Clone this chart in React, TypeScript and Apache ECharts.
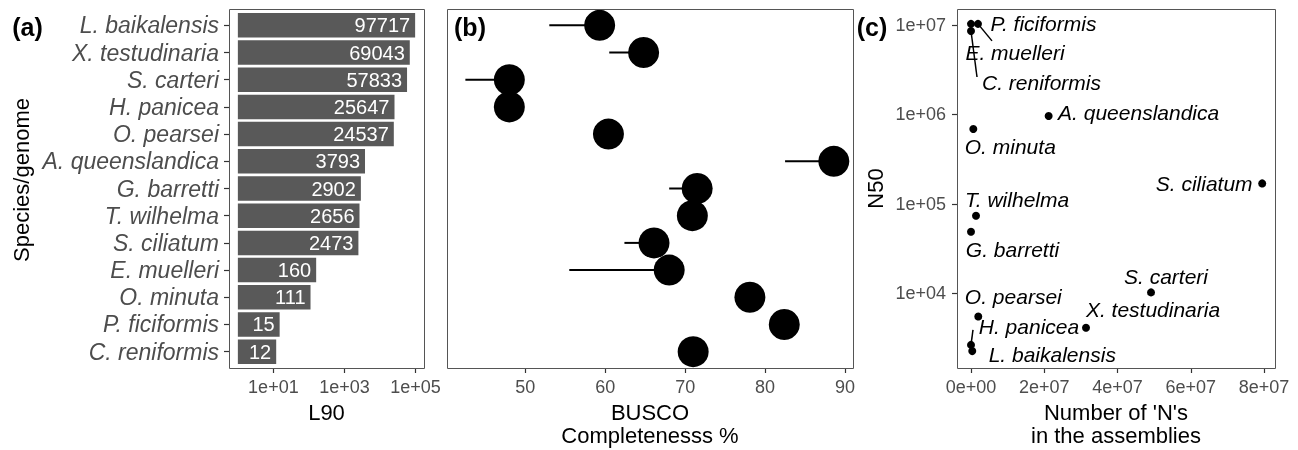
import React, { useEffect, useRef } from 'react';
import * as echarts from 'echarts';

// ---------- data ----------
const species = [
  'L. baikalensis', 'X. testudinaria', 'S. carteri', 'H. panicea', 'O. pearsei',
  'A. queenslandica', 'G. barretti', 'T. wilhelma', 'S. ciliatum', 'E. muelleri',
  'O. minuta', 'P. ficiformis', 'C. reniformis',
];
const l90 = [97717, 69043, 57833, 25647, 24537, 3793, 2902, 2656, 2473, 160, 111, 15, 12];
const buscoComplete = [59.3, 64.8, 48.0, 48.0, 60.4, 88.6, 71.5, 70.9, 66.1, 68.0, 78.1, 82.4, 71.0];
const buscoLower: (number | null)[] = [53.0, 60.5, 42.5, null, null, 82.5, 68.0, null, 62.4, 55.5, null, null, null];
const nCount = [3.5e5, 3.14e7, 4.915e7, 0, 1.99e6, 2.12e7, 0, 1.37e6, 7.95e7, 1.91e6, 6.3e5, 0, 0];
const n50 = [2250, 4110, 10200, 2640, 5480, 9.6e5, 4.87e4, 7.36e4, 1.69e5, 1.03e7, 6.87e5, 1.03e7, 8.57e6];

const l90Ticks = [10, 1000, 100000];
const buscoTicks = [50, 60, 70, 80, 90];
const nTicks = [0, 2e7, 4e7, 6e7, 8e7];
const n50Ticks = [1e4, 1e5, 1e6, 1e7];

// ---------- layout (not data) ----------
const labelOffsets: [number, number][] = [
  [80, 3], [67, -18], [15, -16], [58, -18], [35, -20.5], [90, -3], [41.5, 17.5],
  [41, -16.5], [-58, 0], [37, 29], [37, 17.5], [72.5, 0], [70.5, 51.5],
];
const segmentEnds: ([number, number] | null)[] = [
  null, null, null, [2, -15], null, null, null, null, null, [14, 17], null, null, [6, 46],
];

const FONT = '"Liberation Sans", Arial, Helvetica, sans-serif';
const TICK_COLOR = '#4D4D4D';
const TOP = 9;
const H = 359;
const BAND = H / 13.2;
const INSET = 0.1 * BAND;

function sci(v: number): string {
  if (v === 0) return '0e+00';
  const e = Math.floor(Math.log10(v) + 1e-9);
  const m = Math.round(v / Math.pow(10, e));
  return `${m}e+${String(e).padStart(2, '0')}`;
}

const hiddenLine = { show: false, onZero: false };
const tickStyle = { show: true, inside: false, length: 5, lineStyle: { color: '#333', width: 1.2 } };
const labelStyle = { color: TICK_COLOR, fontSize: 18, fontFamily: FONT };
const nameStyle = { color: '#000', fontSize: 22, fontFamily: FONT, lineHeight: 23 };

export default function App() {
  const ref = useRef<HTMLDivElement>(null);
  useEffect(() => {
    if (!ref.current) return;
    const chart = echarts.init(ref.current, undefined, { renderer: 'svg' });
    const grids = [
      { left: 229, top: TOP + INSET, width: 195, height: 13 * BAND },
      { left: 447, top: TOP + INSET, width: 406, height: 13 * BAND },
      { left: 957, top: TOP, width: 318, height: H },
    ];
    const option: any = {
      animation: false,
      grid: grids.map((g) => ({ ...g, containLabel: false, outerBoundsMode: 'none' })),
      xAxis: [
        {
          type: 'log', logBase: 10, gridIndex: 0,
          min: Math.pow(10, -0.2495), max: Math.pow(10, 5.2395), offset: INSET,
          axisLine: hiddenLine, splitLine: { show: false },
          axisTick: { ...tickStyle, customValues: l90Ticks },
          axisLabel: { ...labelStyle, margin: 10, customValues: l90Ticks, formatter: (v: number) => sci(v) },
          name: 'L90', nameLocation: 'middle', nameGap: 33, nameTextStyle: nameStyle,
        },
        {
          type: 'value', gridIndex: 1, min: 40.2, max: 91.0, offset: INSET,
          axisLine: hiddenLine, splitLine: { show: false },
          axisTick: { ...tickStyle, customValues: buscoTicks },
          axisLabel: { ...labelStyle, margin: 10, customValues: buscoTicks },
          name: 'BUSCO\nCompletenesss %', nameLocation: 'middle', nameGap: 33, nameTextStyle: nameStyle,
        },
        {
          type: 'value', gridIndex: 2, min: -3.82e6, max: 8.30e7,
          axisLine: hiddenLine, splitLine: { show: false },
          axisTick: { ...tickStyle, customValues: nTicks },
          axisLabel: { ...labelStyle, margin: 10, customValues: nTicks, formatter: (v: number) => sci(v) },
          name: "Number of 'N's\nin the assemblies", nameLocation: 'middle', nameGap: 33, nameTextStyle: nameStyle,
        },
      ],
      yAxis: [
        {
          type: 'category', gridIndex: 0, data: species, inverse: true,
          axisLine: hiddenLine, splitLine: { show: false },
          axisTick: { ...tickStyle, alignWithLabel: true, interval: 0 },
          axisLabel: { color: TICK_COLOR, fontSize: 23, fontFamily: FONT, fontStyle: 'italic', margin: 10, interval: 0 },
        },
        {
          type: 'category', gridIndex: 1, data: species, inverse: true,
          axisLine: hiddenLine, axisTick: { show: false }, axisLabel: { show: false }, splitLine: { show: false },
        },
        {
          type: 'log', logBase: 10, gridIndex: 2,
          min: Math.pow(10, 3.163), max: Math.pow(10, 7.179),
          axisLine: hiddenLine, splitLine: { show: false },
          axisTick: { ...tickStyle, customValues: n50Ticks },
          axisLabel: { ...labelStyle, margin: 11, customValues: n50Ticks, formatter: (v: number) => sci(v) },
        },
      ],
      series: [
        {
          type: 'bar', xAxisIndex: 0, yAxisIndex: 0, data: l90, barWidth: '90%',
          itemStyle: { color: '#595959' },
          label: { show: true, position: 'insideRight', distance: 5, color: '#fff', fontSize: 20, fontFamily: FONT },
        },
        {
          type: 'custom', xAxisIndex: 1, yAxisIndex: 1, z: 1,
          data: buscoLower
            .map((lo, i) => (lo == null ? null : [lo, buscoComplete[i], i]))
            .filter((d) => d !== null),
          encode: { x: [0, 1], y: 2 },
          renderItem: (params: any, api: any) => {
            const p0 = api.coord([api.value(0), api.value(2)]);
            const p1 = api.coord([api.value(1), api.value(2)]);
            return {
              type: 'line',
              shape: { x1: p0[0], y1: p0[1], x2: p1[0], y2: p1[1] },
              style: { stroke: '#000', lineWidth: 2 },
            };
          },
        },
        {
          type: 'scatter', xAxisIndex: 1, yAxisIndex: 1, z: 3,
          data: buscoComplete.map((v, i) => [v, i]),
          symbolSize: 31, itemStyle: { color: '#000', opacity: 1 },
        },
        {
          type: 'custom', xAxisIndex: 2, yAxisIndex: 2, z: 1,
          data: species
            .map((s, i) => (segmentEnds[i] ? [nCount[i], n50[i], segmentEnds[i]![0], segmentEnds[i]![1]] : null))
            .filter((d) => d !== null),
          encode: { x: 0, y: 1 },
          renderItem: (params: any, api: any) => {
            const p = api.coord([api.value(0), api.value(1)]);
            return {
              type: 'line',
              shape: { x1: p[0], y1: p[1], x2: p[0] + api.value(2), y2: p[1] + api.value(3) },
              style: { stroke: '#000', lineWidth: 1.5 },
            };
          },
        },
        {
          type: 'scatter', xAxisIndex: 2, yAxisIndex: 2, z: 3,
          symbolSize: 8, itemStyle: { color: '#000', opacity: 1 },
          data: species.map((s, i) => ({
            name: s,
            value: [nCount[i], n50[i]],
            label: { offset: labelOffsets[i] },
          })),
          label: {
            show: true, position: 'inside', formatter: (p: any) => p.name,
            color: '#000', fontSize: 21, fontFamily: FONT, fontStyle: 'italic',
            align: 'center', verticalAlign: 'middle',
          },
        },
      ],
      graphic: [
        ...grids.map((g) => ({
          type: 'rect', silent: true, z: 10,
          shape: { x: g.left + 0.5, y: TOP + 0.5, width: g.width, height: H },
          style: { fill: 'none', stroke: '#555', lineWidth: 1 },
        })),
        { type: 'text', x: 27.5, y: 27, style: { text: '(a)', font: `bold 25px ${FONT}`, fill: '#000', align: 'center', verticalAlign: 'middle' } },
        { type: 'text', x: 470, y: 27, style: { text: '(b)', font: `bold 25px ${FONT}`, fill: '#000', align: 'center', verticalAlign: 'middle' } },
        { type: 'text', x: 872, y: 27, style: { text: '(c)', font: `bold 25px ${FONT}`, fill: '#000', align: 'center', verticalAlign: 'middle' } },
        { type: 'text', x: 21, y: 180, rotation: Math.PI / 2, style: { text: 'Species/genome', font: `22px ${FONT}`, fill: '#000', align: 'center', verticalAlign: 'middle' } },
        { type: 'text', x: 875, y: 188.5, rotation: Math.PI / 2, style: { text: 'N50', font: `22px ${FONT}`, fill: '#000', align: 'center', verticalAlign: 'middle' } },
      ],
    };
    chart.setOption(option);
    return () => chart.dispose();
  }, []);
  return <div ref={ref} style={{ position: 'fixed', left: 0, top: 0, width: 1298, height: 450 }} />;
}
